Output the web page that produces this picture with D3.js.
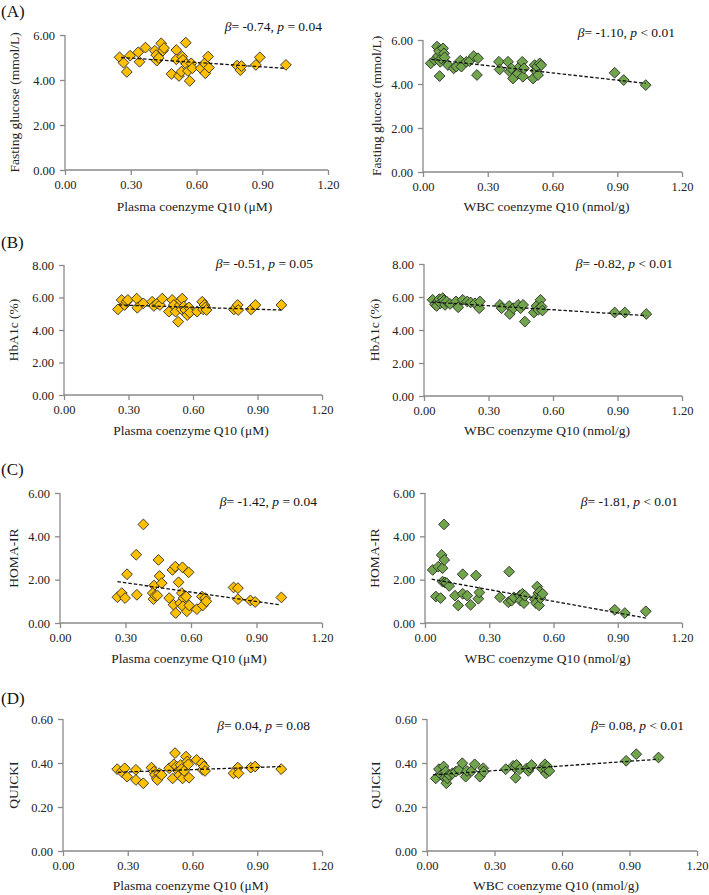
<!DOCTYPE html>
<html><head><meta charset="utf-8">
<script src="https://cdn.jsdelivr.net/npm/d3@7"></script>
<style>body{margin:0;background:#fff}svg{display:block}svg text{font-family:"Liberation Serif","Times New Roman",serif}</style>
</head><body>
<svg id="chart" width="709" height="895"></svg>
<script>
// ---------- DATA ----------
const xTicks = [0, 0.3, 0.6, 0.9, 1.2];
const glucoseTicks = [0, 2, 4, 6];
const hba1cTicks = [0, 2, 4, 6, 8];
const homaTicks = [0, 2, 4, 6];
const quickiTicks = [0, 0.2, 0.4, 0.6];

// (A) Fasting glucose vs plasma CoQ10
const aPlasmaX = [0.249,0.267,0.282,0.297,0.334,0.340,0.367,0.410,0.416,0.419,0.439,0.447,0.452,0.428,0.486,0.508,0.508,0.520,0.531,0.535,0.538,0.551,0.553,0.561,0.569,0.576,0.581,0.619,0.637,0.640,0.653,0.657,0.785,0.800,0.805,0.871,0.889,1.008];
const aPlasmaY = [5.01,4.77,4.36,5.08,5.23,4.81,5.44,5.30,5.11,4.86,5.63,5.30,5.42,4.98,4.27,5.33,4.92,4.18,4.37,5.04,4.89,5.66,4.71,4.40,3.96,4.74,4.52,4.52,4.74,4.30,5.04,4.55,4.64,4.44,4.62,4.67,5.01,4.67];
const aPlasmaTrend = [0.256, 5.00, 1.003, 4.52];
// (A) Fasting glucose vs WBC CoQ10
const aWbcX = [0.036,0.054,0.065,0.069,0.074,0.077,0.080,0.085,0.093,0.097,0.100,0.116,0.142,0.154,0.173,0.178,0.201,0.216,0.235,0.250,0.255,0.352,0.355,0.394,0.402,0.409,0.417,0.440,0.448,0.460,0.463,0.468,0.510,0.517,0.522,0.528,0.533,0.541,0.548,0.888,0.930,1.032];
const aWbcY = [4.94,5.09,5.70,5.27,5.50,4.36,5.01,5.16,5.62,5.39,5.21,4.86,4.71,4.79,5.06,4.79,5.01,5.04,5.27,4.41,5.17,5.01,4.66,5.01,4.56,4.71,4.25,4.48,4.79,5.01,4.33,4.71,4.25,4.86,4.60,4.79,4.41,4.94,4.86,4.51,4.18,3.95];
const aWbcTrend = [0.039, 5.12, 1.032, 4.03];

// (B) HbA1c vs plasma CoQ10
const bPlasmaX = [0.251,0.268,0.282,0.291,0.297,0.338,0.341,0.369,0.410,0.418,0.434,0.446,0.457,0.488,0.503,0.511,0.519,0.531,0.539,0.542,0.547,0.550,0.557,0.565,0.573,0.581,0.585,0.619,0.643,0.647,0.653,0.658,0.663,0.790,0.808,0.810,0.870,0.890,1.011];
const bPlasmaY = [5.27,5.85,5.54,5.74,5.85,5.93,5.37,5.64,5.74,5.48,5.64,5.54,5.93,5.13,5.85,5.54,5.13,4.51,5.54,5.81,5.27,5.93,5.44,5.23,4.92,5.39,5.07,5.13,5.74,5.27,5.54,5.39,5.23,5.27,5.54,5.23,5.27,5.54,5.54];
const bPlasmaTrend = [0.255, 5.54, 1.011, 5.23];
// (B) HbA1c vs WBC CoQ10
const bWbcX = [0.040,0.051,0.059,0.071,0.077,0.087,0.093,0.098,0.105,0.121,0.149,0.159,0.180,0.201,0.217,0.237,0.257,0.260,0.353,0.361,0.396,0.399,0.415,0.438,0.449,0.461,0.469,0.511,0.523,0.531,0.542,0.547,0.551,0.887,0.934,1.034];
const bWbcY = [5.83,5.56,5.46,5.87,5.62,5.93,5.79,5.52,5.73,5.58,5.73,5.38,5.83,5.73,5.67,5.62,5.32,5.73,5.52,5.32,5.46,4.97,5.32,5.52,5.32,5.52,4.51,5.06,5.46,5.22,5.83,5.42,5.18,5.06,5.06,4.97];
const bWbcTrend = [0.036, 5.69, 1.034, 4.87];

// (C) HOMA-IR vs plasma CoQ10
const cPlasmaX = [0.263,0.283,0.298,0.307,0.349,0.352,0.382,0.451,0.456,0.431,0.466,0.425,0.428,0.436,0.446,0.500,0.515,0.528,0.520,0.530,0.543,0.550,0.558,0.561,0.566,0.563,0.578,0.581,0.589,0.592,0.627,0.650,0.654,0.665,0.670,0.795,0.815,0.815,0.872,0.894,1.014];
const cPlasmaY = [1.19,1.38,1.15,2.25,3.15,1.30,4.55,2.91,2.17,1.73,1.84,1.38,1.10,1.26,1.27,1.15,2.45,2.60,0.84,0.46,1.88,0.92,1.38,2.57,1.15,0.77,1.22,0.54,2.34,0.81,0.64,1.22,0.81,1.15,1.00,1.64,1.61,1.10,1.04,0.97,1.18];
const cPlasmaTrend = [0.263, 1.91, 1.006, 0.84];
// (C) HOMA-IR vs WBC CoQ10
const cWbcX = [0.036,0.051,0.062,0.073,0.078,0.082,0.089,0.090,0.082,0.093,0.101,0.113,0.140,0.155,0.176,0.176,0.197,0.213,0.238,0.249,0.254,0.350,0.393,0.389,0.404,0.415,0.443,0.446,0.455,0.462,0.466,0.513,0.518,0.524,0.529,0.533,0.536,0.539,0.549,0.886,0.933,1.031];
const cWbcY = [2.45,1.22,2.60,1.15,3.14,2.53,4.55,2.91,1.91,1.87,1.84,1.71,1.26,0.81,2.25,1.35,1.26,0.84,2.19,1.12,1.41,1.19,2.37,0.96,1.03,1.18,1.26,1.03,1.35,0.92,1.26,1.10,0.92,1.68,1.38,0.81,1.45,1.15,1.35,0.61,0.46,0.54];
const cWbcTrend = [0.031, 2.02, 1.031, 0.23];

// (D) QUICKI vs plasma CoQ10
const dPlasmaX = [0.251,0.271,0.286,0.297,0.338,0.338,0.372,0.410,0.421,0.426,0.434,0.437,0.446,0.457,0.492,0.508,0.519,0.514,0.526,0.534,0.539,0.545,0.550,0.554,0.561,0.570,0.576,0.581,0.584,0.619,0.643,0.647,0.653,0.658,0.790,0.810,0.813,0.870,0.890,1.011];
const dPlasmaY = [0.372,0.361,0.376,0.338,0.369,0.323,0.308,0.379,0.361,0.346,0.330,0.323,0.353,0.346,0.376,0.330,0.445,0.394,0.384,0.364,0.346,0.391,0.373,0.330,0.364,0.429,0.407,0.394,0.333,0.414,0.399,0.369,0.384,0.364,0.353,0.379,0.353,0.379,0.384,0.372];
const dPlasmaTrend = [0.255, 0.358, 1.011, 0.384];
// (D) QUICKI vs WBC CoQ10
const dWbcX = [0.039,0.053,0.064,0.074,0.079,0.083,0.086,0.091,0.098,0.113,0.128,0.143,0.157,0.172,0.178,0.198,0.212,0.235,0.250,0.252,0.350,0.383,0.391,0.394,0.398,0.413,0.443,0.450,0.458,0.465,0.509,0.524,0.529,0.532,0.535,0.544,0.885,0.930,1.029];
const dWbcY = [0.330,0.372,0.346,0.384,0.333,0.361,0.308,0.330,0.346,0.353,0.361,0.369,0.399,0.338,0.364,0.364,0.394,0.338,0.376,0.361,0.372,0.387,0.379,0.333,0.391,0.372,0.376,0.364,0.379,0.391,0.376,0.394,0.353,0.372,0.384,0.364,0.410,0.440,0.425];
const dWbcTrend = [0.027, 0.346, 1.029, 0.417];

const panelLetters = ["(A)", "(B)", "(C)", "(D)"];
const yTitles = ["Fasting glucose (mmol/L)", "HbA1c (%)", "HOMA-IR", "QUICKI"];
const xTitles = ["Plasma coenzyme Q10 (\u03bcM)", "WBC coenzyme Q10 (nmol/g)"];
const betaTexts = [
  ["-0.74", "= 0.04"], ["-1.10", "< 0.01"],
  ["-0.51", "= 0.05"], ["-0.82", "< 0.01"],
  ["-1.42", "= 0.04"], ["-1.81", "< 0.01"],
  ["0.04", "= 0.08"], ["0.08", "< 0.01"]
];

// ---------- LAYOUT ----------
const YELLOW = "#FFC000", GREEN = "#70A54B";
const panels = [
  {row:0,col:0,x:aPlasmaX,y:aPlasmaY,t:aPlasmaTrend,yt:glucoseTicks,L:65,R:328,T:35,B:170,fill:YELLOW,bx:322,by:31},
  {row:0,col:1,x:aWbcX,y:aWbcY,t:aWbcTrend,yt:glucoseTicks,L:423,R:682,T:40,B:172,fill:GREEN,bx:675,by:37},
  {row:1,col:0,x:bPlasmaX,y:bPlasmaY,t:bPlasmaTrend,yt:hba1cTicks,L:64,R:322,T:265,B:395,fill:YELLOW,bx:313,by:268},
  {row:1,col:1,x:bWbcX,y:bWbcY,t:bWbcTrend,yt:hba1cTicks,L:424,R:682,T:264,B:396,fill:GREEN,bx:673,by:268},
  {row:2,col:0,x:cPlasmaX,y:cPlasmaY,t:cPlasmaTrend,yt:homaTicks,L:60,R:322,T:493,B:623,fill:YELLOW,bx:317,by:506},
  {row:2,col:1,x:cWbcX,y:cWbcY,t:cWbcTrend,yt:homaTicks,L:425,R:682,T:493,B:623,fill:GREEN,bx:678,by:506},
  {row:3,col:0,x:dPlasmaX,y:dPlasmaY,t:dPlasmaTrend,yt:quickiTicks,L:63,R:322,T:719,B:851,fill:YELLOW,bx:310,by:730},
  {row:3,col:1,x:dWbcX,y:dWbcY,t:dWbcTrend,yt:quickiTicks,L:427,R:697,T:719,B:851,fill:GREEN,bx:684,by:730}
];
const letterY = [17, 248, 475, 704];
const xTitleY = [211, 435, 663, 890];
const yTitleX = [[14, 376], [13, 374], [13, 374], [13, 375]];

const svg = d3.select("#chart");
const AXIS = "#8a8a8a";

panelLetters.forEach((l, i) => {
  svg.append("text").attr("x", 1).attr("y", letterY[i])
    .attr("font-size", 17).attr("fill", "#111").text(l);
});

const diamond = r => `M0,${-r}L${r},0L0,${r}L${-r},0Z`;

panels.forEach((p, i) => {
  const yMax = p.yt[p.yt.length - 1];
  const x = d3.scaleLinear().domain([0, 1.2]).range([p.L, p.R]);
  const y = d3.scaleLinear().domain([0, yMax]).range([p.B, p.T]);
  const g = svg.append("g");

  const xa = g.append("g").attr("transform", `translate(0,${p.B})`)
    .call(d3.axisBottom(x).tickValues(xTicks).tickFormat(d3.format(".2f")).tickSize(5).tickPadding(5));
  const ya = g.append("g").attr("transform", `translate(${p.L},0)`)
    .call(d3.axisLeft(y).tickValues(p.yt).tickFormat(d3.format(".2f")).tickSize(5).tickPadding(5));
  [xa, ya].forEach(a => {
    a.selectAll("path,line").attr("stroke", AXIS).attr("stroke-width", 1.3);
    a.selectAll("text").attr("font-family", null).attr("font-size", 12.5).attr("fill", "#222");
  });
  xa.attr("font-family", null);
  ya.attr("font-family", null);
  xa.select("path").attr("d", `M${p.L},0H${p.R}`);
  ya.select("path").attr("d", `M0,${p.B}V${p.T}`);

  // points
  const pts = p.x.map((v, k) => [v, p.y[k]]);
  g.append("g").selectAll("path").data(pts).join("path")
    .attr("d", diamond(5.4))
    .attr("transform", d => `translate(${x(d[0])},${y(d[1])})`)
    .attr("fill", p.fill).attr("stroke", "#2a2a2a").attr("stroke-width", 0.9);

  // trend line
  g.append("line")
    .attr("x1", x(p.t[0])).attr("y1", y(p.t[1]))
    .attr("x2", x(p.t[2])).attr("y2", y(p.t[3]))
    .attr("stroke", "#111").attr("stroke-width", 1.3).attr("stroke-dasharray", "3.5,2");

  // beta text
  const bt = betaTexts[i];
  const t = g.append("text").attr("x", p.bx).attr("y", p.by).attr("text-anchor", "end")
    .attr("font-size", 13.5).attr("fill", "#111");
  t.append("tspan").attr("font-style", "italic").text("\u03b2");
  t.append("tspan").text(`= ${bt[0]}, `);
  t.append("tspan").attr("font-style", "italic").text("p");
  t.append("tspan").text(` ${bt[1]}`);

  // axis titles
  g.append("text").attr("x", (p.L + p.R) / 2 + (p.col ? -6 : -2)).attr("y", xTitleY[p.row])
    .attr("text-anchor", "middle").attr("font-size", 13.5).attr("fill", "#222")
    .text(xTitles[p.col]);
  const yx = yTitleX[p.row][p.col];
  g.append("text").attr("transform", `translate(${yx},${(p.T + p.B) / 2}) rotate(-90)`)
    .attr("text-anchor", "middle").attr("dy", "0.35em").attr("font-size", 13.5).attr("fill", "#222")
    .text(yTitles[p.row]);
});
</script>
</body></html>
